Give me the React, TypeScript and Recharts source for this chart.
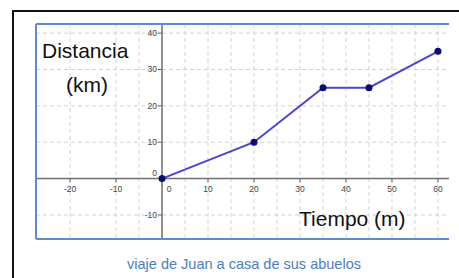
import { CartesianGrid, Line, LineChart, ReferenceDot, ReferenceLine, XAxis, YAxis } from "recharts"

const tiempo = [0, 20, 35, 45, 60]
const distancia = [0, 10, 25, 25, 35]
const xLabels = [-20, -10, 0, 10, 20, 30, 40, 50, 60]
const yLabels = [-10, 0, 10, 20, 30, 40]
const xGrid = [-25, -20, -15, -10, -5, 0, 5, 10, 15, 20, 25, 30, 35, 40, 45, 50, 55, 60]
const yGrid = [-15, -10, -5, 0, 5, 10, 15, 20, 25, 30, 35, 40]
const xDomain = [-27.4, 62.4]
const yDomain = [-16.6, 42.5]

const data = tiempo.map((t, i) => ({ t, d: distancia[i] }))

const tickFont = { fontSize: 8.5, fill: "#444", fontFamily: "Liberation Sans, Arial, sans-serif" }

const XTick = ({ cx, cy, value }: any) => (
  <g>
    <line x1={cx} y1={cy} x2={cx} y2={cy + 4} stroke="#666" />
    <text x={value === 0 ? cx + 7 : cx} y={cy + 13} textAnchor="middle" {...tickFont}>
      {value}
    </text>
  </g>
)

const YTick = ({ cx, cy, value }: any) => (
  <g>
    {value !== 0 && <line x1={cx - 4} y1={cy} x2={cx} y2={cy} stroke="#666" />}
    <text x={cx - 5} y={value === 0 ? cy - 3 : cy + 3} textAnchor="end" {...tickFont}>
      {value}
    </text>
  </g>
)

const App = () => {
  return (
    <div style={{ position: "absolute", left: 0, top: 0, width: 459, height: 278, background: "#fff" }}>
      <div
        style={{
          position: "absolute",
          left: 12,
          top: 10,
          width: 445,
          height: 268,
          borderLeft: "2px solid #111",
          borderTop: "2px solid #111",
        }}
      />
      <div style={{ position: "absolute", left: 0, top: 0 }}>
        <LineChart width={459} height={278} data={data} margin={{ top: 24, right: 10, bottom: 39, left: 36 }}>
          <XAxis dataKey="t" type="number" domain={xDomain} allowDataOverflow hide />
          <YAxis type="number" domain={yDomain} allowDataOverflow hide />
          <CartesianGrid
            stroke="#d2d2d2"
            strokeDasharray="4 3"
            verticalValues={xGrid}
            horizontalValues={yGrid}
          />
          <ReferenceLine x={0} stroke="#707070" strokeWidth={1.5} />
          <ReferenceLine y={0} stroke="#707070" strokeWidth={1.5} />
          <ReferenceLine x={xDomain[0]} stroke="#5b8bd0" strokeWidth={2} />
          <ReferenceLine y={yDomain[0]} stroke="#5b8bd0" strokeWidth={2} />
          <ReferenceLine y={yDomain[1]} stroke="#5b8bd0" strokeWidth={2} />
          {xLabels.map((v) => (
            <ReferenceDot key={"x" + v} x={v} y={0} r={1} shape={(p: any) => <XTick {...p} value={v} />} />
          ))}
          {yLabels.map((v) => (
            <ReferenceDot key={"y" + v} x={0} y={v} r={1} shape={(p: any) => <YTick {...p} value={v} />} />
          ))}
          <Line
            dataKey="d"
            stroke="#4b44d0"
            strokeWidth={2}
            dot={{ r: 3.5, fill: "#0c0c6e", stroke: "#0c0c6e", strokeWidth: 0 }}
            isAnimationActive={false}
          />
        </LineChart>
      </div>
      <svg
        width={459}
        height={278}
        style={{ position: "absolute", left: 0, top: 0, pointerEvents: "none" }}
        fontFamily="Liberation Sans, Arial, sans-serif"
      >
        <text x={42} y={58} fontSize={21} fill="#111">Distancia</text>
        <text x={87} y={92} fontSize={21} fill="#111" textAnchor="middle">(km)</text>
        <text x={299} y={226} fontSize={21} fill="#111">Tiempo (m)</text>
        <text
          x={127}
          y={269}
          fontSize={15}
          fill="#4a7ec2"
          textLength={234}
          lengthAdjust="spacingAndGlyphs"
        >
          viaje de Juan a casa de sus abuelos
        </text>
      </svg>
    </div>
  )
}

export default App
